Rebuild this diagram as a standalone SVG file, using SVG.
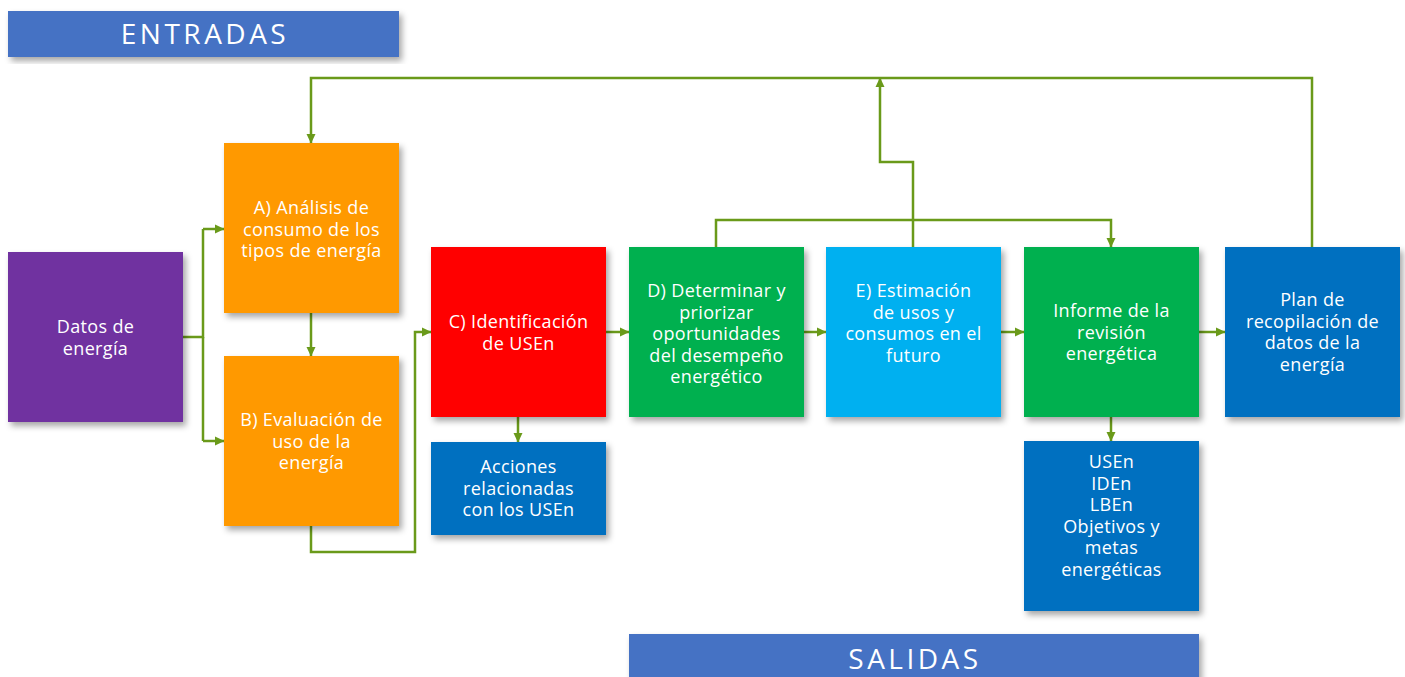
<svg xmlns="http://www.w3.org/2000/svg" width="1405" height="677" viewBox="0 0 1405 677">
<defs>
<filter id="sh" x="-10%" y="-10%" width="125%" height="125%">
<feDropShadow dx="3" dy="4" stdDeviation="3" flood-color="#000" flood-opacity="0.35"/>
</filter>
<marker id="ah" markerWidth="10" markerHeight="10" refX="9" refY="5" orient="auto" markerUnits="userSpaceOnUse">
<path d="M0,0.5 L9.5,5 L0,9.5 z" fill="#6A9A1A"/>
</marker>
<style>
.box{filter:url(#sh);}
.t{font-family:"Open Sans","Liberation Sans",sans-serif;font-size:18px;fill:#fff;text-anchor:middle;letter-spacing:0.35px;}
.h{font-family:"Open Sans","Liberation Sans",sans-serif;font-size:28px;fill:#fff;text-anchor:middle;letter-spacing:3.5px;}
.c{fill:none;stroke:#6A9A1A;stroke-width:2.5;}
.a{marker-end:url(#ah);}
</style>
</defs>
<rect width="1405" height="677" fill="#fff"/>

<g id="entradas">
<rect class="box" x="8" y="11" width="391" height="46" fill="#4472C4"/>
<text class="h" x="205" y="44">ENTRADAS</text>
</g>
<g id="salidas">
<rect class="box" x="629" y="634" width="570" height="50" fill="#4472C4"/>
<text class="h" x="915" y="669">SALIDAS</text>
</g>

<g id="connectors">
<path class="c" d="M183,337 H203 V229"/>
<path class="c a" d="M203,229 H224"/>
<path class="c" d="M203,337 V441"/>
<path class="c a" d="M203,441 H224"/>
<path class="c a" d="M311,313 V356"/>
<path class="c a" d="M311,526 V552 H415 V332 H431"/>
<path class="c a" d="M518,417 V442"/>
<path class="c a" d="M606,332 H629"/>
<path class="c a" d="M804,332 H826"/>
<path class="c a" d="M1001,332 H1024"/>
<path class="c a" d="M1199,332 H1225"/>
<path class="c a" d="M1111,417 V441"/>
<path class="c a" d="M716,247 V220 H1111 V247"/>
<path class="c a" d="M913,247 V162 H880 V78"/>
<path class="c a" d="M1312,247 V78 H311 V143"/>
</g>

<g id="datos">
<rect class="box" x="8" y="252" width="175" height="170" fill="#7030A0"/>
<text class="t" x="95.5" y="333">Datos de</text>
<text class="t" x="95.5" y="354.5">energía</text>
</g>
<g id="nodeA">
<rect class="box" x="224" y="143" width="175" height="170" fill="#FF9900"/>
<text class="t" x="311.5" y="214">A) Análisis de</text>
<text class="t" x="311.5" y="235.5">consumo de los</text>
<text class="t" x="311.5" y="257">tipos de energía</text>
</g>
<g id="nodeB">
<rect class="box" x="224" y="356" width="175" height="170" fill="#FF9900"/>
<text class="t" x="311.5" y="426">B) Evaluación de</text>
<text class="t" x="311.5" y="447.5">uso de la</text>
<text class="t" x="311.5" y="469">energía</text>
</g>
<g id="nodeC">
<rect class="box" x="431" y="247" width="175" height="170" fill="#FF0000"/>
<text class="t" x="518.5" y="328">C) Identificación</text>
<text class="t" x="518.5" y="350">de USEn</text>
</g>
<g id="acciones">
<rect class="box" x="431" y="442" width="175" height="93" fill="#0070C0"/>
<text class="t" x="518.5" y="473">Acciones</text>
<text class="t" x="518.5" y="494.5">relacionadas</text>
<text class="t" x="518.5" y="516">con los USEn</text>
</g>
<g id="nodeD">
<rect class="box" x="629" y="247" width="175" height="170" fill="#00B050"/>
<text class="t" x="716.5" y="297">D) Determinar y</text>
<text class="t" x="716.5" y="318.5">priorizar</text>
<text class="t" x="716.5" y="340">oportunidades</text>
<text class="t" x="716.5" y="361.5">del desempeño</text>
<text class="t" x="716.5" y="383">energético</text>
</g>
<g id="nodeE">
<rect class="box" x="826" y="247" width="175" height="170" fill="#00B0F0"/>
<text class="t" x="913.5" y="297">E) Estimación</text>
<text class="t" x="913.5" y="318.5">de usos y</text>
<text class="t" x="913.5" y="340">consumos en el</text>
<text class="t" x="913.5" y="361.5">futuro</text>
</g>
<g id="informe">
<rect class="box" x="1024" y="247" width="175" height="170" fill="#00B050"/>
<text class="t" x="1111.5" y="317">Informe de la</text>
<text class="t" x="1111.5" y="338.5">revisión</text>
<text class="t" x="1111.5" y="360">energética</text>
</g>
<g id="plan">
<rect class="box" x="1225" y="247" width="175" height="170" fill="#0070C0"/>
<text class="t" x="1312.5" y="306">Plan de</text>
<text class="t" x="1312.5" y="327.5">recopilación de</text>
<text class="t" x="1312.5" y="349">datos de la</text>
<text class="t" x="1312.5" y="370.5">energía</text>
</g>
<g id="resultados">
<rect class="box" x="1024" y="441" width="175" height="170" fill="#0070C0"/>
<text class="t" x="1111.5" y="468">USEn</text>
<text class="t" x="1111.5" y="489.5">IDEn</text>
<text class="t" x="1111.5" y="511">LBEn</text>
<text class="t" x="1111.5" y="532.5">Objetivos y</text>
<text class="t" x="1111.5" y="554">metas</text>
<text class="t" x="1111.5" y="575.5">energéticas</text>
</g>
</svg>
